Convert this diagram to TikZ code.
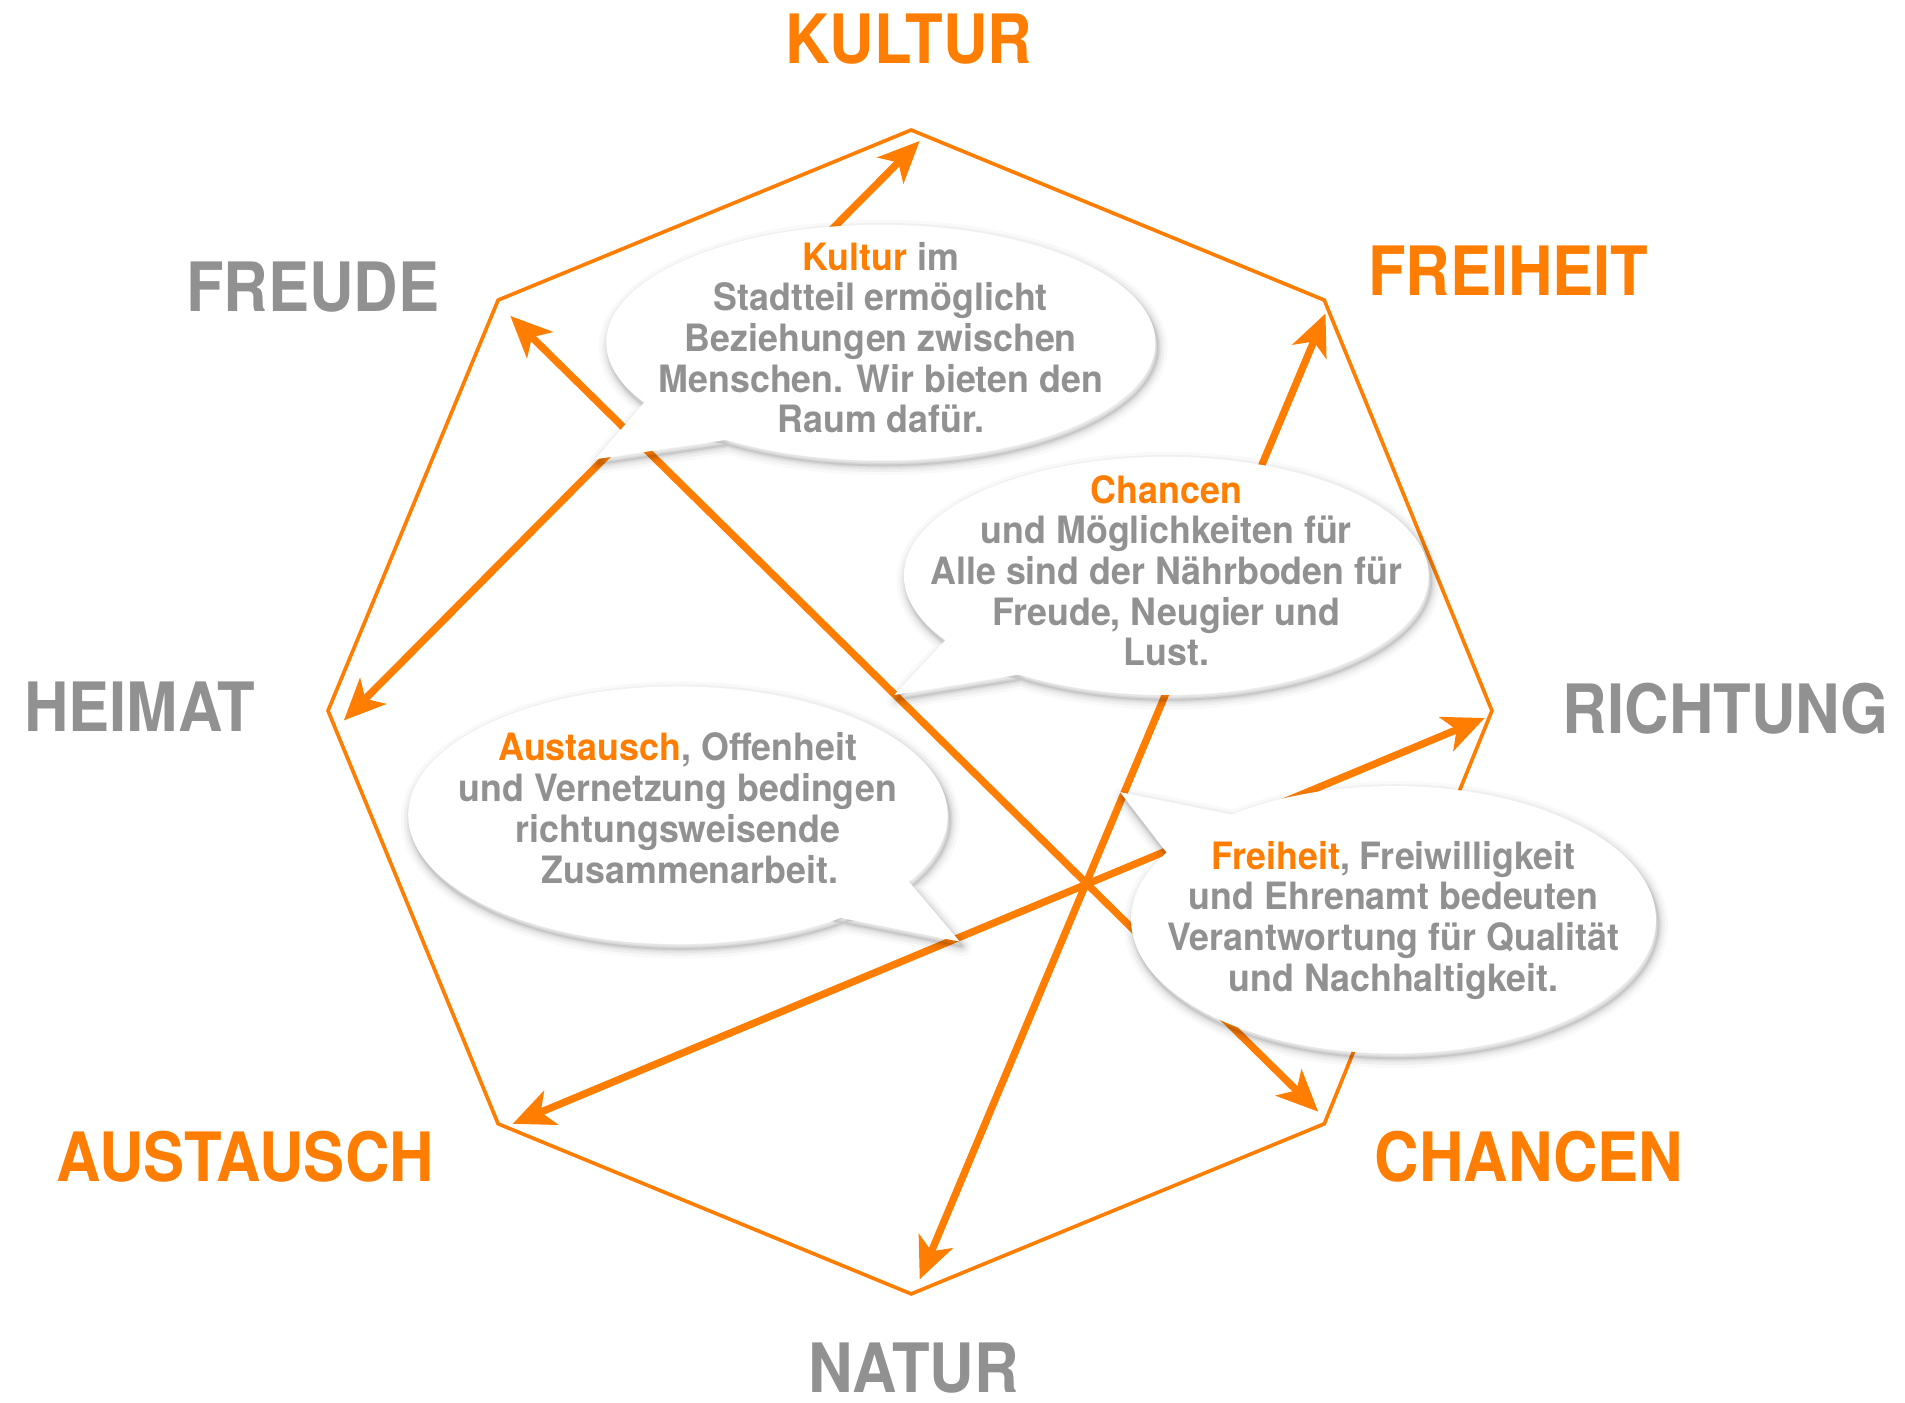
\documentclass[tikz,border=0pt]{standalone}
\usepackage{fontspec}
\setmainfont{TeX Gyre Heros}
\newfontfamily\labfont[FakeStretch=0.905]{TeX Gyre Heros}
\newfontfamily\bubfont[FakeStretch=0.95]{TeX Gyre Heros}
\usetikzlibrary{arrows.meta}
\definecolor{myorange}{RGB}{255,125,0}
\definecolor{mygray}{RGB}{145,145,145}
\newcommand\speechbubble[7]{%
  \foreach \lw/\op in {16/0.025,11/0.035,7/0.045,4/0.06,1.5/0.08}{%
    \draw[line width=\lw pt, draw=black, opacity=\op, line join=round, shift={(2,4)}]
      (#1,#2) ellipse [x radius=#3, y radius=#4] (#5) -- (#6) -- (#7) -- cycle;
  }%
  \fill[white] (#1,#2) ellipse [x radius=#3, y radius=#4];
  \fill[white] (#5) -- (#6) -- (#7) -- cycle;
}
\tikzset{
  octline/.style={draw=myorange, line width=3pt, line join=miter},
  biarrow/.style={draw=myorange, line width=6pt,
    arrows={Stealth[length=34pt,width=30pt,inset=9pt]-Stealth[length=34pt,width=30pt,inset=9pt]}},
  biglabel/.style={inner sep=0pt, font=\fontsize{56}{60}\labfont\bfseries},
  orlabel/.style={biglabel, text=myorange},
  grlabel/.style={biglabel, text=mygray},
  bubtext/.style={inner sep=0pt, anchor=north, align=center, text=mygray,
    font=\fontsize{31}{33.5}\bubfont\bfseries},
}
\begin{document}
\begin{tikzpicture}[x=1pt,y=-1pt]
\useasboundingbox (0,0) rectangle (1568,1154);
% octagon corners
\coordinate (vN)  at (750,107);
\coordinate (vNE) at (1090,247);
\coordinate (vE)  at (1228,585);
\coordinate (vSE) at (1090,925);
\coordinate (vS)  at (750,1065);
\coordinate (vSW) at (410,925);
\coordinate (vW)  at (270,585);
\coordinate (vNW) at (410,247);
\draw[octline] (vN) -- (vNE) -- (vE) -- (vSE) -- (vS) -- (vSW) -- (vW) -- (vNW) -- cycle;
% arrow ends
\coordinate (pK) at (757,116);
\coordinate (pH) at (283,593);
\coordinate (pFr) at (420,260);
\coordinate (pC) at (1085,915);
\coordinate (pFh) at (1091,258);
\coordinate (pN) at (757,1053);
\coordinate (pR) at (1222,591);
\coordinate (pA) at (422,925);
\draw[biarrow] (pH) -- (pK);
\draw[biarrow] (pC) -- (pFr);
\draw[biarrow] (pN) -- (pFh);
\draw[biarrow] (pA) -- (pR);
% bubbles
\speechbubble{725}{282}{226}{97}{533,328}{490,378}{598,362}
\speechbubble{960}{474}{216}{98}{780,525}{736,572}{840,555}
\speechbubble{558}{671}{222}{106}{685,754}{790,775}{745,722}
\speechbubble{1147}{757}{216}{110}{962,704}{922,652}{1021,672}
% bubble texts
\node[bubtext] (t1) at (725,199) {{\color{myorange}Kultur} im\\Stadtteil ermöglicht\\Beziehungen zwischen\\Menschen. Wir bieten den\\Raum dafür.};
\node[bubtext] (t2) at (960,391) {{\color{myorange}Chancen}\\und Möglichkeiten für\\Alle sind der Nährboden für\\Freude, Neugier und\\Lust.};
\node[bubtext] (t3) at (558,603) {{\color{myorange}Austausch}, Offenheit\\und Vernetzung bedingen\\richtungsweisende\\\hspace*{20pt}Zusammenarbeit.};
\node[bubtext] (t4) at (1147,692) {{\color{myorange}Freiheit}, Freiwilligkeit\\und Ehrenamt bedeuten\\Verantwortung für Qualität\\und Nachhaltigkeit.};
% outer labels
\node[orlabel] (lK) at (748,32.5) {KULTUR};
\node[grlabel] (lFr) at (257.5,236) {FREUDE};
\node[orlabel] (lFh) at (1241.5,223) {FREIHEIT};
\node[grlabel] (lH) at (115,581.5) {HEIMAT};
\node[grlabel] (lR) at (1420.5,583.5) {RICHTUNG};
\node[orlabel] (lA) at (202,952) {AUSTAUSCH};
\node[orlabel] (lC) at (1258.5,952) {CHANCEN};
\node[grlabel] (lN) at (752,1126) {NATUR};
\end{tikzpicture}
\end{document}
